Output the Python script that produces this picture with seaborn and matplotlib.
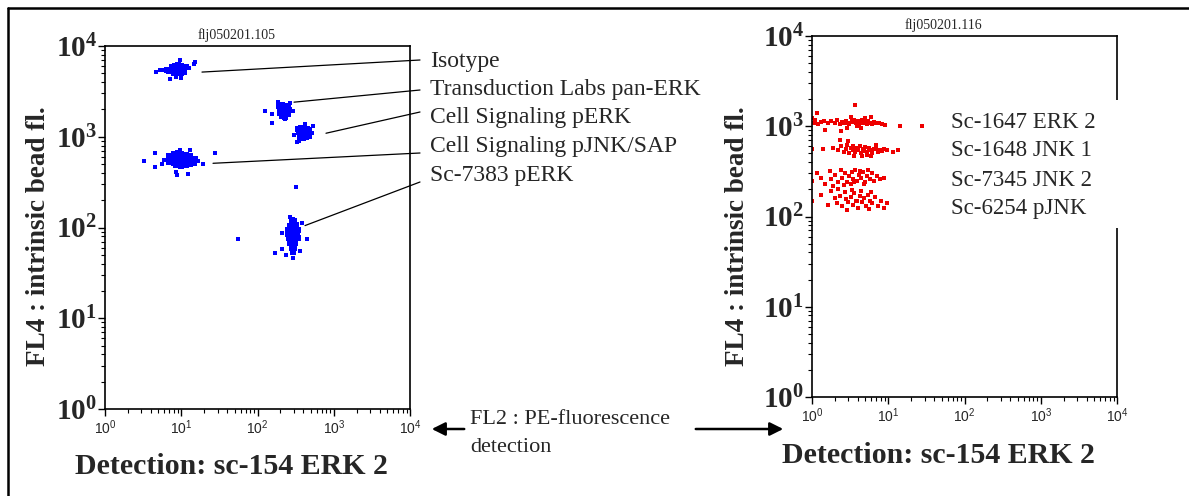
import numpy as np
import pandas as pd
import matplotlib
matplotlib.use("Agg")
import matplotlib.pyplot as plt
import seaborn as sns
from matplotlib.lines import Line2D
from matplotlib.patches import Rectangle, FancyArrowPatch
from matplotlib.ticker import FixedLocator, FixedFormatter, LogLocator, NullFormatter

# --- left panel (blue): cluster cores and stray events ---
iso_core_x = [7.5, 8.3, 9.0, 9.8, 10.6, 11.4, 7.8, 8.6, 9.4, 10.2, 11.0, 8.0, 9.0, 10.0, 11.0, 6.6, 7.0]
iso_core_y = [5900, 6000, 6100, 5950, 5900, 5800, 5500, 5450, 5500, 5400, 5500, 5100, 5050, 5100, 5150, 5450, 5300]
iso_dot_x = [4.6, 5.2, 5.8, 6.3, 12.8, 14.8, 15.0, 9.7, 7.2, 8.6, 10.0]
iso_dot_y = [5200, 5400, 5500, 5600, 5700, 6300, 6700, 7000, 4350, 4500, 4400]

pan_core_x = [190, 210, 230, 250, 200, 220, 240, 260, 195, 215, 235, 255, 210, 230]
pan_core_y = [2200, 2250, 2200, 2150, 2000, 2050, 2000, 1980, 1850, 1800, 1850, 1800, 1700, 1650]
pan_dot_x = [125, 155, 155, 185, 270, 290, 230]
pan_dot_y = [1920, 1770, 1410, 2400, 2350, 1900, 1550]

perk_core_x = [340, 370, 400, 440, 480, 350, 385, 420, 460, 360, 395, 430, 470]
perk_core_y = [1230, 1260, 1240, 1220, 1200, 1120, 1100, 1100, 1080, 990, 980, 1000, 1010]
perk_dot_x = [330, 520, 540, 300, 420, 350]
perk_dot_y = [870, 1100, 1300, 1050, 1380, 900]

pjnk_core_x = [7.0, 8.0, 9.0, 10.0, 11.5, 13.0, 7.5, 8.5, 9.5, 10.5, 12.0, 14.0,
               7.0, 8.0, 9.2, 10.5, 12.0, 14.5, 8.5, 10.0, 11.5, 13.0]
pjnk_core_y = [620, 640, 660, 640, 630, 610, 575, 580, 585, 575, 570, 565,
               530, 520, 530, 525, 520, 515, 490, 480, 485, 495]
pjnk_dot_x = [3.2, 4.5, 4.5, 5.6, 8.5, 8.8, 12.3, 19.3, 27.7, 13.0, 9.6, 15.5, 16.5, 6.0]
pjnk_dot_y = [536, 670, 460, 500, 407, 377, 390, 497, 660, 710, 710, 580, 540, 560]

sc73_core_x = [280, 300, 270, 295, 320, 255, 280, 305, 335, 250, 275, 300, 330,
               260, 285, 310, 340, 265, 290, 315, 280, 305, 290]
sc73_core_y = [120, 118, 105, 105, 106, 95, 95, 96, 94, 85, 85, 86, 84,
               76, 76, 75, 77, 67, 67, 68, 60, 60, 54]
sc73_dot_x = [320, 55.5, 210, 170, 210, 292, 446, 383, 240, 360, 270]
sc73_dot_y = [277, 75.5, 86, 53, 58.6, 46.6, 75.5, 111, 50, 55, 130]

left_labels = ["Isotype", "Transduction Labs pan-ERK", "Cell Signaling pERK",
               "Cell Signaling pJNK/SAP", "Sc-7383 pERK"]
left_anchor_x = [18.7, 301, 791, 26.1, 420]
left_anchor_y = [5160, 2405, 1093, 510, 105]

# --- right panel (red): four bead rows ---
erk2_x = [1.0, 1.05, 1.1, 1.2, 1.3, 1.45, 1.6, 1.8, 2.0, 2.1, 2.3, 2.5, 2.6, 2.8, 3.0, 3.1,
          3.3, 3.5, 3.6, 3.8, 4.0, 4.1, 4.3, 4.5, 4.7, 4.9, 5.2, 5.5, 5.8, 6.2, 6.6, 7.0,
          7.6, 8.3, 9.0, 14.3, 27.7, 3.7, 2.4, 1.5, 4.4, 5.0, 3.2, 2.9, 6.0, 1.15, 3.9]
erk2_y = [1250, 1100, 1180, 1050, 1120, 1150, 1080, 1130, 1100, 1170, 1060, 1120, 1090, 1140, 1100, 1060,
          1150, 1110, 1180, 1080, 1130, 1060, 1110, 1160, 1090, 1120, 1070, 1140, 1100, 1050, 1120, 1080,
          1100, 1060, 1030, 1000, 1000, 1720, 880, 900, 950, 1250, 1280, 960, 1280, 1400, 1000]

jnk1_x = [1.4, 1.9, 2.2, 2.4, 2.6, 2.8, 2.9, 3.1, 3.2, 3.4, 3.5, 3.7, 3.9, 4.0, 4.2, 4.4,
          4.6, 4.8, 5.0, 5.3, 5.6, 5.9, 6.2, 6.5, 6.9, 7.3, 7.7, 8.2, 8.8, 9.5, 11.5, 13.5,
          1.0, 2.3, 3.0, 4.5, 6.0, 7.0, 5.2, 3.6]
jnk1_y = [560, 580, 540, 600, 520, 560, 620, 500, 580, 550, 600, 520, 570, 540, 600, 500,
          560, 530, 590, 520, 570, 540, 510, 560, 580, 520, 550, 530, 560, 540, 520, 540,
          560, 700, 690, 470, 470, 620, 480, 470]

jnk2_x = [1.0, 1.15, 1.3, 1.5, 1.7, 1.8, 2.0, 2.2, 2.4, 2.5, 2.7, 2.9, 3.1, 3.3, 3.5, 3.7,
          3.9, 4.1, 4.4, 4.7, 5.0, 5.3, 5.7, 6.1, 6.6, 7.2, 7.9, 8.8, 2.6, 3.2, 4.2, 4.8,
          1.9, 5.5, 3.6]
jnk2_y = [250, 300, 270, 230, 320, 260, 290, 240, 330, 270, 300, 240, 280, 310, 260, 330,
          250, 290, 270, 310, 240, 280, 260, 300, 250, 280, 260, 270, 225, 230, 320, 230,
          215, 330, 240]

pjnk6_x = [1.0, 1.3, 1.6, 1.8, 2.0, 2.1, 2.3, 2.5, 2.7, 2.8, 3.0, 3.2, 3.4, 3.6, 3.8, 4.0,
           4.2, 4.5, 4.8, 5.1, 5.4, 5.8, 6.2, 6.7, 7.3, 8.0, 8.9, 9.5, 2.2, 3.3, 4.4, 5.6,
           6.0, 2.9, 3.9]
pjnk6_y = [150, 175, 135, 190, 160, 140, 170, 130, 185, 155, 145, 165, 135, 180, 150, 125,
           170, 145, 160, 130, 175, 150, 140, 165, 130, 150, 125, 140, 200, 195, 190, 120,
           185, 118, 150]

right_labels = ["Sc-1647 ERK 2", "Sc-1648 JNK 1", "Sc-7345 JNK 2", "Sc-6254 pJNK"]

decade_ticks = [1, 10, 100, 1000, 10000]
xtick_labels = [r"$\mathsf{10^{%d}}$" % i for i in range(5)]
ytick_labels = [r"$\mathbf{10^{%d}}$" % i for i in range(5)]

# ---------------------------------------------------------------------
sns.set_style("white")
plt.rcParams["font.family"] = ["Liberation Serif", "DejaVu Serif"]
plt.rcParams["mathtext.fontset"] = "custom"
plt.rcParams["mathtext.rm"] = "Liberation Serif"
plt.rcParams["mathtext.bf"] = "Liberation Serif:bold"
plt.rcParams["mathtext.sf"] = "Liberation Sans"

W, H = 1189, 496
fig = plt.figure(figsize=(W / 100, H / 100), dpi=100)


def px_axes(x0, y0, x1, y1):
    return fig.add_axes([x0 / W, 1 - y1 / H, (x1 - x0) / W, (y1 - y0) / H])


def frame(df, ax, blue):
    for kind, size in [("core", 22), ("dot", 5)]:
        sub = df[df["kind"] == kind]
        sns.scatterplot(data=sub, x="x", y="y", ax=ax, color=blue, marker="s",
                        s=size, linewidth=0, legend=False)


def style_axes(ax, title, xlab_pos, ylab_pos):
    ax.set_xscale("log")
    ax.set_yscale("log")
    ax.set_xlim(1, 1e4)
    ax.set_ylim(1, 1e4)
    ax.xaxis.set_major_locator(FixedLocator(decade_ticks))
    ax.xaxis.set_major_formatter(FixedFormatter(xtick_labels))
    ax.yaxis.set_major_locator(FixedLocator(decade_ticks))
    ax.yaxis.set_major_formatter(FixedFormatter(ytick_labels))
    ax.xaxis.set_minor_locator(LogLocator(base=10, subs=np.arange(2, 10)))
    ax.yaxis.set_minor_locator(LogLocator(base=10, subs=np.arange(2, 10)))
    ax.xaxis.set_minor_formatter(NullFormatter())
    ax.yaxis.set_minor_formatter(NullFormatter())
    ax.tick_params(which="both", bottom=True, left=True, top=False, right=False)
    ax.tick_params(which="major", direction="out", length=5, width=1, color="black")
    ax.tick_params(which="minor", direction="out", length=3, width=0.8, color="black")
    ax.tick_params(axis="x", which="major", labelsize=10, pad=2)
    ax.tick_params(axis="y", which="major", labelsize=21, pad=1)
    ax.set_xlabel("Detection: sc-154 ERK 2", fontsize=21.5, fontweight="bold")
    ax.set_ylabel("FL4 : intrinsic bead fl.", fontsize=19.5, fontweight="bold")
    ax.xaxis.set_label_coords(*xlab_pos)
    ax.yaxis.set_label_coords(*ylab_pos)
    for s in ax.spines.values():
        s.set_visible(True)
        s.set_color("black")
        s.set_linewidth(1.2)
    ax.text(0.43, 1.03, title, transform=ax.transAxes, ha="center", va="center",
            fontsize=10)
    ax.set_facecolor("white")


# left panel
left_df = pd.concat([
    pd.DataFrame({"x": iso_core_x, "y": iso_core_y, "kind": "core"}),
    pd.DataFrame({"x": iso_dot_x, "y": iso_dot_y, "kind": "dot"}),
    pd.DataFrame({"x": pan_core_x, "y": pan_core_y, "kind": "core"}),
    pd.DataFrame({"x": pan_dot_x, "y": pan_dot_y, "kind": "dot"}),
    pd.DataFrame({"x": perk_core_x, "y": perk_core_y, "kind": "core"}),
    pd.DataFrame({"x": perk_dot_x, "y": perk_dot_y, "kind": "dot"}),
    pd.DataFrame({"x": pjnk_core_x, "y": pjnk_core_y, "kind": "core"}),
    pd.DataFrame({"x": pjnk_dot_x, "y": pjnk_dot_y, "kind": "dot"}),
    pd.DataFrame({"x": sc73_core_x, "y": sc73_core_y, "kind": "core"}),
    pd.DataFrame({"x": sc73_dot_x, "y": sc73_dot_y, "kind": "dot"}),
], ignore_index=True)

axL = px_axes(105, 46, 410, 409)
frame(left_df, axL, "#0000ff")
style_axes(axL, "flj050201.105", (0.416, -0.12), (-0.177, 0.477))

label_y = [62, 90, 118, 146, 175]
line_end_y = [60, 90, 112, 153, 182]
for lab, ax_, ay_, ty, ly in zip(left_labels, left_anchor_x, left_anchor_y, label_y, line_end_y):
    axL.annotate("", xy=(ax_, ay_), xycoords="data", xytext=(420, H - ly),
                 textcoords="figure pixels", annotation_clip=False,
                 arrowprops=dict(arrowstyle="-", lw=0.9, color="black",
                                 shrinkA=0, shrinkB=0))
    fig.text(430 / W, 1 - ty / H, lab, ha="left", va="center", fontsize=17)

# right panel
right_df = pd.concat([
    pd.DataFrame({"x": erk2_x, "y": erk2_y}),
    pd.DataFrame({"x": jnk1_x, "y": jnk1_y}),
    pd.DataFrame({"x": jnk2_x, "y": jnk2_y}),
    pd.DataFrame({"x": pjnk6_x, "y": pjnk6_y}),
], ignore_index=True)

axR = px_axes(812, 36, 1117, 397)
sns.scatterplot(data=right_df, x="x", y="y", ax=axR, color="#ee0000", marker="s",
                s=6, linewidth=0, legend=False)
style_axes(axR, "flj050201.116", (0.413, -0.125), (-0.204, 0.446))

fig.add_artist(Rectangle((940 / W, 1 - 228 / H), 190 / W, 128 / H,
                         transform=fig.transFigure, facecolor="white",
                         edgecolor="none", zorder=5))
for lab, ty in zip(right_labels, [122, 151, 180, 208]):
    fig.text(951 / W, 1 - ty / H, lab, ha="left", va="center", fontsize=16.5, zorder=6)

# FL2 note with arrows between panels
fig.text(470 / W, 1 - 420 / H, "FL2 : PE-fluorescence", ha="left", va="center", fontsize=16)
fig.text(470 / W, 1 - 447 / H, "detection", ha="left", va="center", fontsize=16)
for x0, x1 in [(467, 429), (693, 786)]:
    fig.add_artist(FancyArrowPatch((x0 / W, 1 - 429 / H), (x1 / W, 1 - 429 / H),
                                   transform=fig.transFigure, arrowstyle="-|>",
                                   mutation_scale=20, lw=1.8, color="black"))

# outer frame (top and left edges)
fig.add_artist(Line2D([8 / W, 1], [1 - 8 / H, 1 - 8 / H], transform=fig.transFigure,
                      color="black", lw=1.8))
fig.add_artist(Line2D([8 / W, 8 / W], [0, 1 - 8 / H], transform=fig.transFigure,
                      color="black", lw=1.8))

fig.savefig("out.png", dpi=100, facecolor="white")
